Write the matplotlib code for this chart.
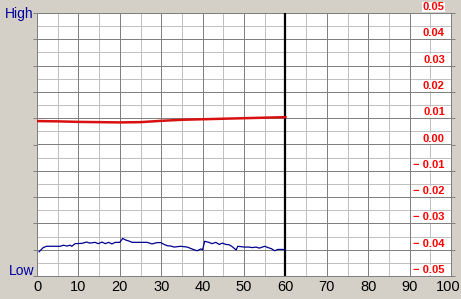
import matplotlib
matplotlib.use("Agg")
import matplotlib.pyplot as plt
import numpy as np
from matplotlib.transforms import offset_copy, ScaledTranslation

# ---- data ----
blue_x = [0.5, 1.5, 2.3, 5.6, 6.4, 7.2, 8.0, 8.4, 9.2, 10.8,
          12.0, 12.8, 14.0, 14.8, 15.7, 16.5, 17.3, 18.1, 18.9, 20.0,
          20.7, 21.4, 22.2, 23.0, 26.6, 27.8, 29.0, 29.9, 30.7, 31.5,
          32.3, 33.1, 34.7, 36.3, 37.9, 38.7, 39.6, 40.0, 40.5, 41.5,
          42.3, 43.2, 44.0, 44.8, 45.6, 46.4, 47.2, 48.1, 48.5, 50.1,
          51.2, 52.0, 52.9, 53.7, 55.0, 55.8, 56.6, 57.4, 58.2, 59.4,
          60.0]
blue_y = [-0.0408, -0.0392, -0.0387, -0.0387, -0.0383, -0.0386, -0.0383, -0.0387, -0.0377, -0.0376,
          -0.0371, -0.0375, -0.0372, -0.0377, -0.0371, -0.0377, -0.0372, -0.0378, -0.0372, -0.0372,
          -0.0357, -0.0363, -0.0367, -0.0372, -0.0372, -0.0378, -0.0373, -0.0373, -0.0380, -0.0385,
          -0.0386, -0.0390, -0.0387, -0.0390, -0.0400, -0.0404, -0.0397, -0.0401, -0.0368, -0.0372,
          -0.0377, -0.0372, -0.0380, -0.0375, -0.0380, -0.0381, -0.0389, -0.0401, -0.0387, -0.0390,
          -0.0390, -0.0392, -0.0390, -0.0394, -0.0387, -0.0392, -0.0396, -0.0404, -0.0399, -0.0399,
          -0.0401]
red_x = [0, 5, 10, 15, 20, 25, 30, 35, 40, 45, 50, 55, 60]
red_y = [0.0089, 0.0088, 0.0086, 0.0085, 0.0084, 0.0085, 0.0090, 0.0094, 0.0096, 0.0098, 0.0100, 0.0102, 0.0104]
cursor_x = 60
x_ticks = [0, 10, 20, 30, 40, 50, 60, 70, 80, 90, 100]
right_ticks = [0.05, 0.04, 0.03, 0.02, 0.01, 0.0, -0.01, -0.02, -0.03, -0.04, -0.05]
right_labels = ["0.05", "0.04", "0.03", "0.02", "0.01", "0.00",
                "\u2212 0.01", "\u2212 0.02", "\u2212 0.03", "\u2212 0.04", "\u2212 0.05"]

W, H = 461, 299
bg = "#D4D0C8"
fig = plt.figure(figsize=(W / 100, H / 100), dpi=100, facecolor=bg)
ax = fig.add_axes([37 / W, (H - 276) / H, (451 - 37) / W, (276 - 13) / H])
ax.set_facecolor("white")
ax.set_xlim(0, 100)
ax.set_ylim(-0.05, 0.05)

fam = ["Liberation Sans", "DejaVu Sans"]
px = 0.72

# grid
for xv in np.arange(5, 100, 10):
    ax.axvline(xv, color="#C0C0C0", lw=px, zorder=1)
for xv in np.arange(10, 100, 10):
    ax.axvline(xv, color="#808080", lw=px, zorder=1.1)
for yv in np.arange(-0.045, 0.05, 0.01):
    ax.axhline(yv, color="#C0C0C0", lw=px, zorder=1)
for yv in np.arange(-0.04, 0.045, 0.01):
    ax.axhline(yv, color="#808080", lw=px, zorder=1.1)

ax.axvline(cursor_x, color="black", lw=1.6, zorder=3)

ax.plot(red_x, red_y, color="#D81010", lw=1.8, zorder=4)
ax.plot(blue_x, blue_y, color="#000090", lw=0.9, zorder=4)

for s in ax.spines.values():
    s.set_color("#808080")
    s.set_linewidth(px)

ax.set_xticks(x_ticks)
ax.set_xticklabels([str(v) for v in x_ticks], fontfamily=fam, fontsize=10.5, color="black")
ax.tick_params(axis="x", length=0, pad=3)
last = ax.get_xticklabels()[-1]
last.set_transform(last.get_transform() + ScaledTranslation(-3 / 100, 0, fig.dpi_scale_trans))
ax.set_yticks(right_ticks)
ax.tick_params(axis="y", left=True, right=True, labelleft=False, labelright=False,
               length=3, width=px, color="#808080", direction="out")

trans = ax.get_yaxis_transform()
for v, lab in zip(right_ticks, right_labels):
    t = offset_copy(trans, fig=fig, x=0, y=6, units="dots")
    ax.text(0.985, v, lab, transform=t, ha="right", va="center",
            fontsize=8, fontweight="bold", color="#FF0000", fontfamily=fam,
            zorder=5, clip_on=False,
            bbox=dict(facecolor="white", edgecolor="none", pad=0.3))

fig.text(34 / W, (H - 14) / H, "High", ha="right", va="center", fontsize=10,
         color="#0000A0", fontfamily=fam)
fig.text(34 / W, (H - 271) / H, "Low", ha="right", va="center", fontsize=10,
         color="#0000A0", fontfamily=fam)

fig.savefig("out.png", dpi=100, facecolor=bg)
